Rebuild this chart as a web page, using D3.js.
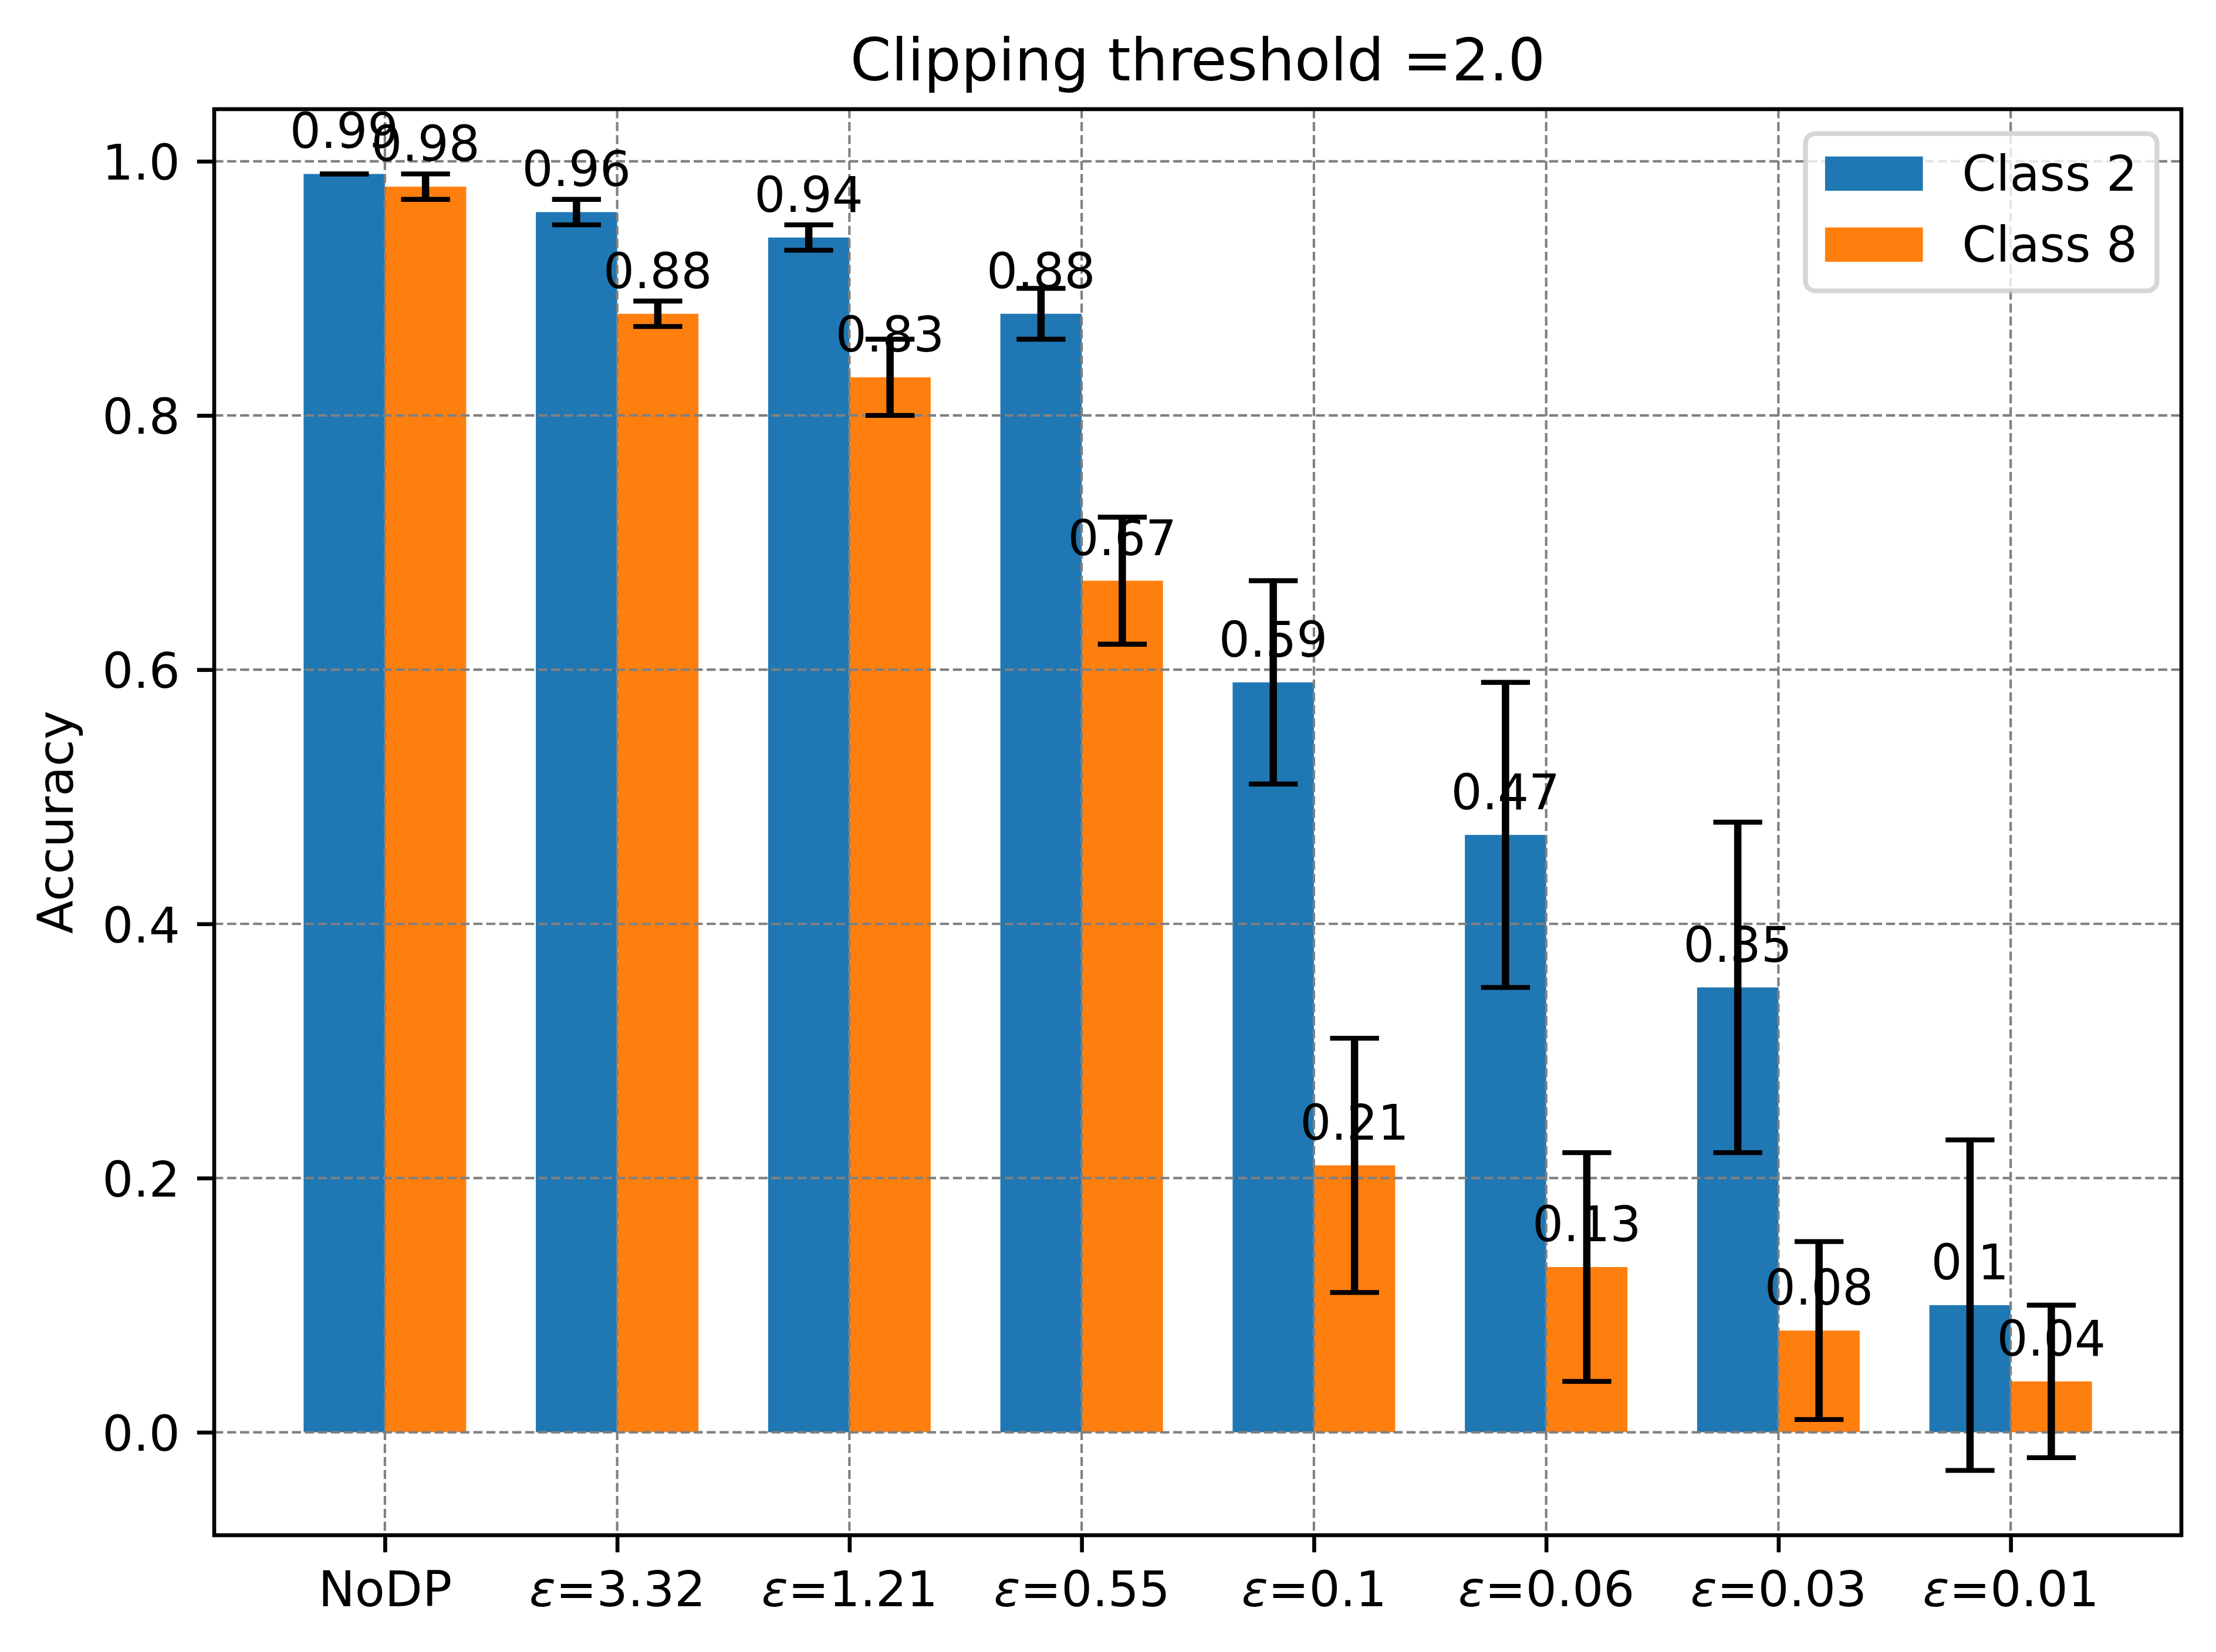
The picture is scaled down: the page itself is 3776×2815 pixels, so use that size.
<!DOCTYPE html>
<html>
<head>
<meta charset="utf-8">
<script src="https://cdn.jsdelivr.net/npm/d3@7"></script>
<style>
  body { margin: 0; background: #fff; }
  svg { display: block; font-family: "DejaVu Sans", sans-serif; }
</style>
</head>
<body>
<svg id="chart" width="3776" height="2815"></svg>
<script>
// data
const categories = ["NoDP", "ε=3.32", "ε=1.21", "ε=0.55", "ε=0.1", "ε=0.06", "ε=0.03", "ε=0.01"];
const class2 = [0.99, 0.96, 0.94, 0.88, 0.59, 0.47, 0.35, 0.1];
const class2_err = [0.0, 0.01, 0.01, 0.02, 0.08, 0.12, 0.13, 0.13];
const class8 = [0.98, 0.88, 0.83, 0.67, 0.21, 0.13, 0.08, 0.04];
const class8_err = [0.01, 0.01, 0.03, 0.05, 0.10, 0.09, 0.07, 0.06];
const y_ticks = [0.0, 0.2, 0.4, 0.6, 0.8, 1.0];
const series_names = ["Class 2", "Class 8"];

const width = 3776, height = 2815;
const fs = 83.33;            // 10pt at 600 dpi
const pt = 600 / 72;
const box = { left: 365, right: 3717, top: 186, bottom: 2616 };
const bar_w = 0.35;
const colors = ["#1f77b4", "#ff7f0e"];

const series = [
    { name: series_names[0], values: class2, err: class2_err, off: -bar_w / 2, color: colors[0] },
    { name: series_names[1], values: class8, err: class8_err, off: bar_w / 2, color: colors[1] }
];

const svg = d3.select("#chart");

// limits like matplotlib's 5% margins
const x_lo = -bar_w, x_hi = categories.length - 1 + bar_w;
const x_pad = (x_hi - x_lo) * 0.05;
var x = d3.scaleLinear().domain([x_lo - x_pad, x_hi + x_pad]).range([box.left, box.right]);

const lows = series.flatMap(s => s.values.map((v, i) => Math.min(0, v - s.err[i])));
const highs = series.flatMap(s => s.values.map((v, i) => v + s.err[i]));
const y_lo = d3.min(lows), y_hi = d3.max(highs);
const y_pad = (y_hi - y_lo) * 0.05;
var y = d3.scaleLinear().domain([y_lo - y_pad, y_hi + y_pad]).range([box.bottom, box.top]);

// bars
series.forEach(s => {
    svg.append("g")
        .selectAll("rect")
        .data(s.values)
        .join("rect")
        .attr("x", (d, i) => x(i + s.off - bar_w / 2))
        .attr("width", x(bar_w) - x(0))
        .attr("y", d => y(d))
        .attr("height", d => y(0) - y(d))
        .attr("fill", s.color);
});

// grid (sits over the bars, like matplotlib's default)
const grid = svg.append("g")
    .attr("stroke", "#808080")
    .attr("stroke-width", 0.5 * pt)
    .attr("stroke-dasharray", `${1.85 * pt} ${0.8 * pt}`);
grid.selectAll("line.gx")
    .data(categories.map((c, i) => i))
    .join("line")
    .attr("x1", d => x(d)).attr("x2", d => x(d))
    .attr("y1", box.top).attr("y2", box.bottom);
grid.selectAll("line.gy")
    .data(y_ticks)
    .join("line")
    .attr("x1", box.left).attr("x2", box.right)
    .attr("y1", d => y(d)).attr("y2", d => y(d));

// error bars
const cap = 5 * pt;
series.forEach(s => {
    const g = svg.append("g").attr("stroke", "black");
    const rows = s.values.map((v, i) => ({ cx: x(i + s.off), lo: v - s.err[i], hi: v + s.err[i] }));
    g.selectAll("line.stem")
        .data(rows)
        .join("line")
        .attr("stroke-width", 1.5 * pt)
        .attr("x1", d => d.cx).attr("x2", d => d.cx)
        .attr("y1", d => y(d.lo)).attr("y2", d => y(d.hi));
    g.selectAll("line.caplo")
        .data(rows)
        .join("line")
        .attr("stroke-width", 1.0 * pt)
        .attr("x1", d => d.cx - cap).attr("x2", d => d.cx + cap)
        .attr("y1", d => y(d.lo)).attr("y2", d => y(d.lo));
    g.selectAll("line.caphi")
        .data(rows)
        .join("line")
        .attr("stroke-width", 1.0 * pt)
        .attr("x1", d => d.cx - cap).attr("x2", d => d.cx + cap)
        .attr("y1", d => y(d.hi)).attr("y2", d => y(d.hi));
});

// axes
const tick_len = 3.5 * pt;
const y_axis = svg.append("g")
    .attr("transform", `translate(${box.left},0)`)
    .call(d3.axisLeft(y).tickValues(y_ticks).tickFormat(d3.format(".1f"))
        .tickSize(tick_len).tickPadding(tick_len));
const x_axis = svg.append("g")
    .attr("transform", `translate(0,${box.bottom})`)
    .call(d3.axisBottom(x).tickValues(categories.map((c, i) => i)).tickFormat(i => categories[i])
        .tickSize(tick_len).tickPadding(tick_len));

[y_axis, x_axis].forEach(a => {
    a.select(".domain").remove();
    a.selectAll(".tick line").attr("stroke", "black").attr("stroke-width", 0.8 * pt);
    a.selectAll(".tick text")
        .attr("fill", "black")
        .style("font-family", "DejaVu Sans")
        .style("font-size", fs + "px");
});
y_axis.selectAll(".tick text").attr("dy", "0.37em");
x_axis.selectAll(".tick text")
    .attr("y", 121).attr("dy", 0)
    .each(function (i) {
        const label = categories[i];
        const t = d3.select(this).text(null);
        if (label.startsWith("ε")) {
            t.append("tspan").style("font-style", "italic").text("ε");
            t.append("tspan").text(label.slice(1));
        } else {
            t.text(label);
        }
    });

// spines
svg.append("rect")
    .attr("x", box.left).attr("y", box.top)
    .attr("width", box.right - box.left).attr("height", box.bottom - box.top)
    .attr("fill", "none").attr("stroke", "black").attr("stroke-width", 0.8 * pt);

// value labels above bars
series.forEach(s => {
    svg.append("g")
        .selectAll("text")
        .data(s.values)
        .join("text")
        .attr("x", (d, i) => x(i + s.off))
        .attr("y", d => y(d) - 44)
        .attr("text-anchor", "middle")
        .style("font-size", fs + "px")
        .text(d => String(d));
});

// title and y label
svg.append("text")
    .attr("x", (box.left + box.right) / 2)
    .attr("y", 137)
    .attr("text-anchor", "middle")
    .style("font-size", (12 * pt) + "px")
    .text("Clipping threshold =2.0");

svg.append("text")
    .attr("transform", `translate(124,${(box.top + box.bottom) / 2}) rotate(-90)`)
    .attr("text-anchor", "middle")
    .style("font-size", fs + "px")
    .text("Accuracy");

// legend, upper right
const lg_w = 598.8, lg_h = 268;
const lg_x = box.right - 0.5 * fs - lg_w, lg_y = box.top + 0.5 * fs;
const legend = svg.append("g");
legend.append("rect")
    .attr("x", lg_x).attr("y", lg_y)
    .attr("width", lg_w).attr("height", lg_h)
    .attr("rx", 0.2 * fs).attr("ry", 0.2 * fs)
    .attr("fill", "white").attr("fill-opacity", 0.8)
    .attr("stroke", "#cccccc").attr("stroke-opacity", 0.8)
    .attr("stroke-width", 1.0 * pt);
const row = legend.selectAll("g.row")
    .data(series)
    .join("g")
    .attr("transform", (d, i) => `translate(${lg_x + 0.4 * fs},${lg_y + 0.4 * fs + 64 + i * 121})`);
row.append("rect")
    .attr("x", 0).attr("y", -0.7 * fs)
    .attr("width", 2.0 * fs).attr("height", 0.7 * fs)
    .attr("fill", d => d.color);
row.append("text")
    .attr("x", 2.8 * fs).attr("y", 0)
    .style("font-size", fs + "px")
    .text(d => d.name);
</script>
</body>
</html>
